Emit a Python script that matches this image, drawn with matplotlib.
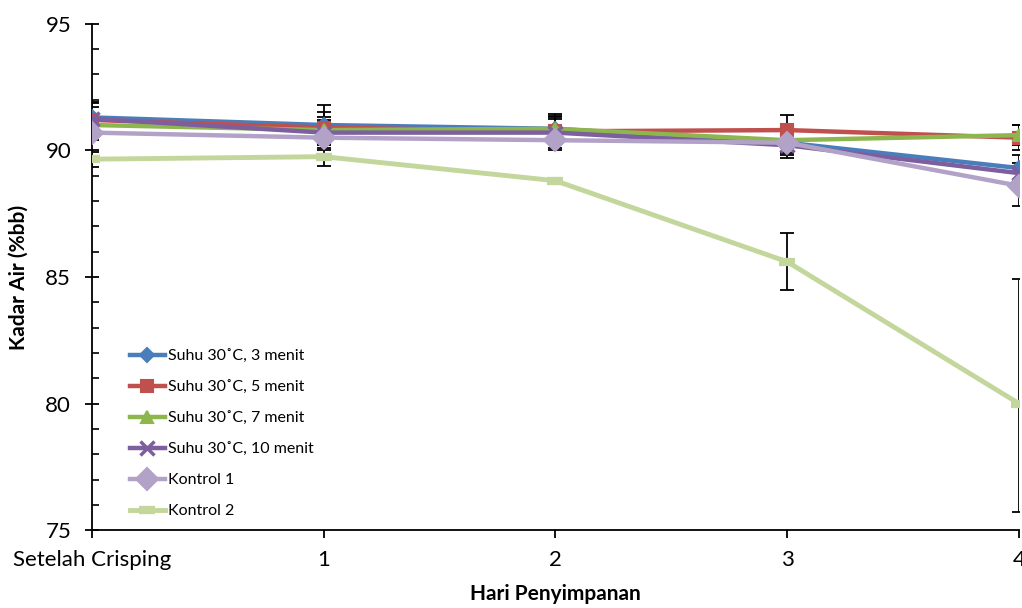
"""Kadar air selama penyimpanan: line chart with error bars."""

import matplotlib

matplotlib.use("Agg")

import matplotlib.pyplot as plt
from matplotlib.ticker import MultipleLocator

plt.rcParams["font.family"] = ["Lato", "DejaVu Sans"]

days = [0, 1, 2, 3, 4]
day_labels = ["Setelah Crisping", "1", "2", "3", "4"]

suhu_3 = [91.3, 91.0, 90.85, 90.3, 89.3]
suhu_5 = [91.2, 90.9, 90.75, 90.8, 90.5]
suhu_7 = [91.0, 90.8, 90.85, 90.4, 90.6]
suhu_10 = [91.25, 90.7, 90.7, 90.2, 89.1]
kontrol_1 = [90.7, 90.5, 90.4, 90.3, 88.6]
kontrol_2 = [89.65, 89.75, 88.8, 85.6, 80.0]

err_3 = [0.6, 0.8, 0.6, 0.4, 0.5]
err_5 = [0.5, 0.6, 0.5, 0.6, 0.5]
err_7 = [0.4, 0.5, 0.5, 0.3, 0.4]
err_10 = [0.6, 0.5, 0.6, 0.4, 0.4]
err_k1 = [0.3, 0.5, 0.4, 0.6, 0.8]
err_k2_low = [0.3, 0.35, 0.0, 1.1, 4.3]
err_k2_high = [0.3, 0.35, 0.0, 1.15, 4.9]

labels = [
    "Suhu 30˚C, 3 menit",
    "Suhu 30˚C, 5 menit",
    "Suhu 30˚C, 7 menit",
    "Suhu 30˚C, 10 menit",
    "Kontrol 1",
    "Kontrol 2",
]

fig = plt.figure(figsize=(10.22, 6.08), dpi=100)
ax = fig.add_axes([0.090, 0.128, 0.907, 0.833])

series = [
    (suhu_3, err_3, "#4A7EBB", "D", 7, 1.5),
    (suhu_5, err_5, "#C0504D", "s", 8, 1.5),
    (suhu_7, err_7, "#8DB64E", "^", 9, 1.5),
    (suhu_10, err_10, "#7D5FA0", "x", 10, 2.5),
    (kontrol_1, err_k1, "#B3A2C7", "D", 11, 1.5),
]

for (vals, err, color, marker, ms, mew), label in zip(series, labels):
    ax.errorbar(days, vals, yerr=err, fmt="none", ecolor="black",
                elinewidth=1.3, capsize=5, capthick=1.3, zorder=2)
    ax.plot(days, vals, color=color, lw=3.2, marker=marker, ms=ms,
            mew=mew, mec=color, mfc=color, label=label, zorder=3)

ax.errorbar(days, kontrol_2, yerr=[err_k2_low, err_k2_high], fmt="none",
            ecolor="black", elinewidth=1.3, capsize=5, capthick=1.3, zorder=2)
ax.plot(days, kontrol_2, color="#C3D69B", lw=3.5, marker="_", ms=12,
        mew=6, label=labels[5], zorder=3)

ax.set_xlim(0, 4)
ax.set_ylim(75, 95)
ax.set_yticks([75, 80, 85, 90, 95])
ax.yaxis.set_minor_locator(MultipleLocator(1))
ax.set_xticks(days)
ax.set_xticklabels(day_labels)
ax.tick_params(axis="y", which="major", labelsize=16, direction="inout",
               length=10, width=1.3, pad=10)
ax.tick_params(axis="y", which="minor", direction="in", length=5, width=1.2)
ax.tick_params(axis="x", labelsize=16, direction="out", length=6,
               width=1.3, pad=8)

for side in ["top", "right"]:
    ax.spines[side].set_visible(False)
for side in ["left", "bottom"]:
    ax.spines[side].set_linewidth(1.3)

ax.set_ylabel("Kadar Air (%bb)", fontsize=15, fontweight="bold", labelpad=12)
ax.set_xlabel("Hari Penyimpanan", fontsize=15, fontweight="bold", labelpad=10)

ax.legend(loc="lower left", bbox_to_anchor=(0.025, -0.005), frameon=False,
          fontsize=11.5, handlelength=2.2, handletextpad=0.2,
          labelspacing=1.05)

fig.savefig("out.png", dpi=100)
